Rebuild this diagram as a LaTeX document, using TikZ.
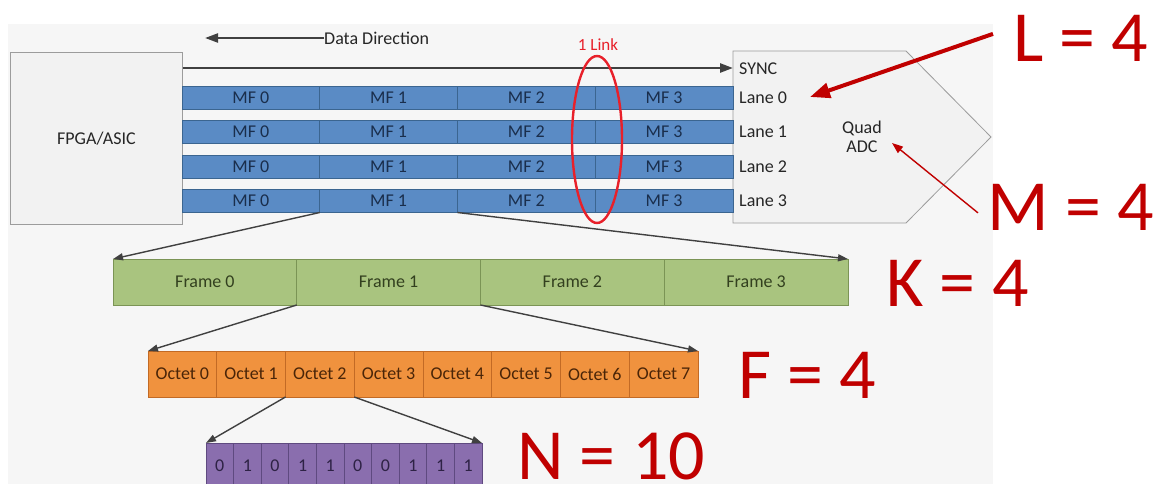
\documentclass[tikz,border=0pt]{standalone}
\usepackage{fontspec}
\setmainfont{Carlito}
\usetikzlibrary{shapes.geometric,arrows.meta}
\definecolor{panel}{HTML}{F6F6F6}
\definecolor{boxfill}{HTML}{F2F2F2}
\definecolor{boxline}{HTML}{9C9C9C}
\definecolor{lanefill}{HTML}{5A8BC5}
\definecolor{laneline}{HTML}{3B6590}
\definecolor{lanetext}{HTML}{1A2E4C}
\definecolor{framefill}{HTML}{A9C47F}
\definecolor{frameline}{HTML}{7B9455}
\definecolor{frametext}{HTML}{33401F}
\definecolor{octfill}{HTML}{F0923E}
\definecolor{octline}{HTML}{C26A25}
\definecolor{octtext}{HTML}{4A2508}
\definecolor{bitfill}{HTML}{8A6EAE}
\definecolor{bitline}{HTML}{5F4A80}
\definecolor{bittext}{HTML}{2E2245}
\definecolor{arrowgray}{HTML}{404040}
\definecolor{bigred}{HTML}{C00000}
\definecolor{linkred}{HTML}{E8202A}
\begin{document}
\begin{tikzpicture}[x=1pt,y=-1pt,
  txt/.style={font=\fontsize{18}{21}\selectfont},
  cell/.style={draw, line width=0.8pt, inner sep=0pt, outer sep=0pt, txt},
  mfcell/.style={cell, fill=lanefill, draw=laneline, text=lanetext, minimum width=137.75pt, minimum height=23pt},
  frcell/.style={cell, fill=framefill, draw=frameline, text=frametext, minimum width=183.75pt, minimum height=46pt},
  occell/.style={cell, fill=octfill, draw=octline, text=octtext, minimum width=68.75pt, minimum height=46pt},
  bitcell/.style={cell, fill=bitfill, draw=bitline, text=bittext, minimum width=27.6pt, minimum height=46pt},
  lanelbl/.style={txt, anchor=west, inner sep=0pt, text=black!85},
  zoomarrow/.style={draw=arrowgray, line width=1.4pt, -{Triangle[length=10pt,width=7pt]}},
  bigtxt/.style={font=\fontsize{72}{80}\selectfont, text=bigred, anchor=base west, inner sep=0pt}
]
\useasboundingbox (0,0) rectangle (1165,484);
\clip (0,0) rectangle (1165,484);
\fill[white] (0,0) rectangle (1165,484);
\fill[panel] (8,24) rectangle (993,490);

% FPGA box
\node[draw=boxline, fill=boxfill, line width=0.8pt, minimum width=172pt, minimum height=172pt, inner sep=0pt, txt, text=black!85, anchor=north west] (fpga) at (10,52) {FPGA/ASIC};

% ADC pentagon
\draw[draw=boxline, fill=boxfill, line width=0.8pt] (733,51) -- (906,51) -- (991,137) -- (906,223) -- (733,223) -- cycle;
\node[txt, align=center, text=black!85, inner sep=0pt] (adc) at (862,137) {Quad\\[-2pt]ADC};

% Data direction
\node[txt, anchor=west, inner sep=0pt, text=black!85] (dd) at (324,38) {Data Direction};
\coordinate (ddtip) at (205,38);
\draw[draw=arrowgray, line width=2.2pt, -{Triangle[length=13pt,width=9pt]}] (dd.west) -- (ddtip);

% SYNC line
\coordinate (syncR) at (733,68);
\draw[draw=arrowgray, line width=2.6pt, -{Triangle[length=13pt,width=9pt]}] (fpga.north east |- syncR) -- (syncR);
\node[lanelbl] (sync) at (739,69) {SYNC};

% Lanes
\foreach \l/\y in {0/97.5,1/132,2/166.5,3/201}{
  \foreach \m/\x in {0/250.9,1/388.6,2/526.4,3/664.1}{
    \node[mfcell] (l\l m\m) at (\x,\y) {MF \m};
  }
  \node[lanelbl] (lane\l) at (739,\y) {Lane \l};
}

% 1 Link ellipse
\node[ellipse, draw=linkred, line width=2.4pt, minimum width=50pt, minimum height=167pt, inner sep=0pt] (link) at (597,139.5) {};
\node[font=\fontsize{17}{19}\selectfont, text=linkred, inner sep=0pt] (linklbl) at (598,45) {1 Link};

% Frames
\foreach \f/\x in {0/204.9,1/388.6,2/572.4,3/756.1}{
  \node[frcell] (fr\f) at (\x,282) {Frame \f};
}
% Octets
\foreach \o in {0,...,7}{
  \node[occell] (oc\o) at ({148+34.375+68.75*\o},374) {Octet \o};
}
% Bits
\foreach \b/\v in {0/0,1/1,2/0,3/1,4/1,5/0,6/0,7/1,8/1,9/1}{
  \node[bitcell] (b\b) at ({206+13.8+27.6*\b},466) {\v};
}

% expansion arrows
\draw[zoomarrow] (l3m1.south west) -- (fr0.north west);
\draw[zoomarrow] (l3m1.south east) -- (fr3.north east);
\draw[zoomarrow] (fr1.south west) -- (oc0.north west);
\draw[zoomarrow] (fr1.south east) -- (oc7.north east);
\draw[zoomarrow] (oc2.south west) -- (b0.north west);
\draw[zoomarrow] (oc2.south east) -- (b9.north east);

% Big labels
\node[bigtxt] (Ltxt) at (1013,62) {L = 4};
\node[bigtxt] (Mtxt) at (987,230) {M = 4};
\node[bigtxt] (Ktxt) at (886,306) {K = 4};
\node[bigtxt] (Ftxt) at (738,398) {F = 4};
\node[bigtxt] (Ntxt) at (517,479) {N = 10};

\coordinate (Ltip) at (810,97);
\draw[draw=bigred, line width=4pt, -{Triangle[length=20pt,width=15pt]}] ([xshift=-20pt,yshift=5pt]Ltxt.west) -- (Ltip);
\coordinate (Mtip) at (892,143);
\draw[draw=bigred, line width=1.4pt, -{Triangle[length=11pt,width=8pt]}] ([xshift=-9pt,yshift=-6pt]Mtxt.west) -- (Mtip);
\end{tikzpicture}
\end{document}
